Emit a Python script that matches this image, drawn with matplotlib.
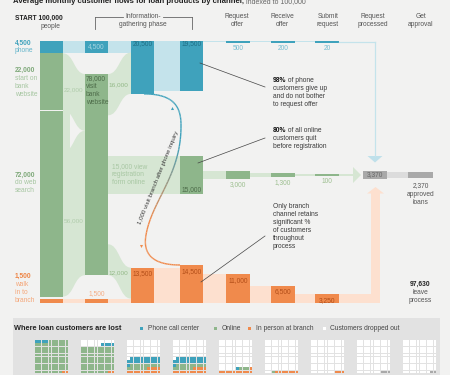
import matplotlib
matplotlib.use("Agg")
import matplotlib.pyplot as plt
import numpy as np
from matplotlib.patches import PathPatch, Polygon, Rectangle
from matplotlib.path import Path
from matplotlib.collections import LineCollection

# entry channels (per month, indexed to 100,000)
start_labels = ["phone", "start on\nbank\nwebsite", "do web\nsearch", "walk\nin to\nbranch"]
start_values = [4500, 22000, 72000, 1500]

# information-gathering phase
website_from_start = 22000
website_from_search = 56000
website_visits = 78000
web_to_phone = 16000
web_to_registration = 15000
web_to_branch = 12000
phone_to_branch = 1000
phone_flow = [4500, 20500, 19500]
branch_flow = [1500, 13500, 14500]

# loan process
stage_names = ["Request\noffer", "Receive\noffer", "Submit\nrequest", "Request\nprocessed", "Get\napproval"]
phone_stages = [500, 200, 20]
online_stages = [3000, 1300, 100]
branch_stages = [11000, 6500, 3250]
processed = 3370
approved = 2370
left_process = 97630

# waffles (cells out of 100)
waffle_phone = [4, 4, 20, 20, 1, 0, 0, 0, 0]
waffle_online = [94, 78, 15, 15, 3, 1, 0, 0, 0]
waffle_branch = [2, 2, 14, 14, 11, 7, 3, 0, 0]
waffle_done = [0, 0, 0, 0, 0, 0, 0, 3, 2]

TEAL, TEAL_L = "#3fa2bc", "#c4e3eb"
GREEN, GREEN_L = "#8eb68b", "#d6e6d3"
ORANGE, ORANGE_L = "#f08a4c", "#fde0cf"
GREY, GREY_L = "#a9a9a9", "#dcdcdc"
BG = "#f2f2f1"
TXT = "#3a3a3a"

S = 2.58 / 1000          # px per person
YT, YB, YC = 41, 302.5, 175
X1, X3, X5, X7 = 40, 85, 131, 180
BW = 23
XS = [226, 271, 315]
SW = 24
XM, XA = 363, 408


def bar(ax, x, top, h, color, w=BW):
    ax.bar(x, h, width=w, bottom=top, align="edge", color=color, lw=0)


def band(ax, x0, t0, b0, x1, t1, b1, color):
    """Bande courbe entre deux colonnes."""
    xm = (x0 + x1) / 2
    verts = [(x0, t0), (xm, t0), (xm, t1), (x1, t1),
             (x1, b1), (xm, b1), (xm, b0), (x0, b0), (x0, t0)]
    codes = [Path.MOVETO, Path.CURVE4, Path.CURVE4, Path.CURVE4,
             Path.LINETO, Path.CURVE4, Path.CURVE4, Path.CURVE4, Path.CLOSEPOLY]
    ax.add_patch(PathPatch(Path(verts, codes), fc=color, ec="none", lw=0))


def lines(ax, x, y, text, step=8, **kw):
    for i, s in enumerate(text.split("\n")):
        ax.text(x, y + i * step, s, va="center", **kw)


def rich(ax, x, y, parts, size=4.8):
    r = ax.figure.canvas.get_renderer()
    for part in parts:
        s, weight, color = part[:3]
        fs = part[3] if len(part) > 3 else size
        t = ax.text(x, y, s, fontsize=fs, fontweight=weight, color=color,
                    va="center", ha="left")
        bb = t.get_window_extent(renderer=r)
        x = ax.transData.inverted().transform((bb.x1, bb.y0))[0]


def bezier(p0, p1, p2, p3, n=40):
    t = np.linspace(0, 1, n)[:, None]
    return ((1 - t) ** 3 * p0 + 3 * (1 - t) ** 2 * t * p1
            + 3 * (1 - t) * t ** 2 * p2 + t ** 3 * p3)


def main():
    plt.rcParams["font.family"] = ["Liberation Sans", "DejaVu Sans"]
    plt.rcParams["font.size"] = 4.8
    fig = plt.figure(figsize=(4.5, 3.75), dpi=100)
    fig.patch.set_facecolor(BG)
    ax = fig.add_axes([0, 0, 1, 1])
    ax.set_xlim(0, 450)
    ax.set_ylim(375, 0)
    ax.axis("off")

    # titre (coupé en haut, comme l'original)
    rich(ax, 13, 1.5, [("Average monthly customer flows for loan products by channel,", "bold", "#222", 5.6),
                       (" indexed to 100,000", "normal", "#666", 5.0)])

    # en-têtes
    ax.text(15, 18, "START 100,000", fontweight="bold", color="#222", va="center")
    ax.text(50, 26, "people", color="#555", va="center", ha="center")
    lines(ax, 143, 17, "Information-\ngathering phase", ha="center", color="#555")
    for xs in ([95, 123], [163, 192]):
        ax.plot(xs, [17, 17], color="#666", lw=0.6)
    ax.plot([95, 95], [17, 29], color="#666", lw=0.6)
    ax.plot([192, 192], [17, 29], color="#666", lw=0.6)
    for xc, name in zip([237, 282, 328, 373, 421], stage_names):
        lines(ax, xc, 17, name, ha="center", color="#555")

    # colonne 1 : canaux d'entrée
    h = [v * S for v in start_values]
    y_phone = YT
    y_web = YT + h[0] + 0.7
    y_search = y_web + h[1] + 0.7
    y_branch = YB - h[3]
    bar(ax, X1, y_phone, h[0], TEAL)
    bar(ax, X1, y_web, h[1], GREEN)
    bar(ax, X1, y_search, h[2], GREEN)
    bar(ax, X1, y_branch, h[3], ORANGE)

    lab_y = [43, 70, 175, 276]
    num_cols = [TEAL, "#7fa97a", "#7fa97a", "#ee8444"]
    txt_cols = ["#62b4ca", "#a6c6a1", "#a6c6a1", "#f4a77a"]
    for y, v, lab, c1, c2 in zip(lab_y, start_values, start_labels, num_cols, txt_cols):
        ax.text(15, y, f"{v:,}", fontweight="bold", color=c1, va="center")
        lines(ax, 15, y + 8, lab, color=c2)

    # colonne 1 -> 3
    x0, x1 = X1 + BW, X3
    bar(ax, x0, YT, h[0], TEAL_L, w=x1 - x0)
    web_top = 74
    h22 = website_from_start * S
    h56 = website_from_search * S
    search_bot = y_search + h[2]
    band(ax, x0, y_web, y_web + h[1], x1, web_top, web_top + h22, GREEN_L)
    band(ax, x0, search_bot - h56, search_bot, x1, web_top + h22, web_top + h22 + h56, GREEN_L)
    ax.add_patch(Rectangle((x0, y_web + h[1]), 7, search_bot - h56 - y_web - h[1],
                           fc=GREEN_L, ec="none"))
    bar(ax, x0, y_branch, h[3], ORANGE_L, w=x1 - x0)
    ax.text(x0 + 0.5, 90, f"{website_from_start:,}", color="#b0ccab", va="center", fontsize=4.6)
    ax.text(x0 + 0.5, 221, f"{website_from_search:,}", color="#b0ccab", va="center", fontsize=4.6)

    # colonne 3
    hw = website_visits * S
    bar(ax, X3, YT, phone_flow[0] * S, TEAL)
    bar(ax, X3, web_top, hw, GREEN)
    bar(ax, X3, y_branch, branch_flow[0] * S, ORANGE)
    ax.text(X3 + BW / 2, 46.5, f"{phone_flow[0]:,}", color="#a5d5e2", ha="center", va="center")
    lines(ax, X3 + 1, 79, f"{website_visits:,}\nvisit\nbank\nwebsite", color="#4d6b49")
    ax.text(X3 + BW / 2, 294, f"{branch_flow[0]:,}", color="#f5ad84", ha="center", va="center")

    # colonne 3 -> 5
    x0, x1 = X3 + BW, X5
    bar(ax, x0, YT, phone_flow[0] * S, TEAL_L, w=x1 - x0)
    h16 = web_to_phone * S
    band(ax, x0, web_top, web_top + h16, x1, YT + phone_flow[0] * S,
         YT + phone_flow[1] * S, GREEN_L)
    h15 = web_to_registration * S
    bar(ax, x0, YC - h15 / 2, h15, GREEN_L, w=X7 - x0)
    h12 = web_to_branch * S
    web_bot = web_top + hw
    band(ax, x0, web_bot - h12, web_bot, x1, YB - branch_flow[1] * S,
         YB - branch_flow[0] * S, GREEN_L)
    bar(ax, x0, y_branch, branch_flow[0] * S, ORANGE_L, w=x1 - x0)
    ax.text(x0 + 0.5, 85, f"{web_to_phone:,}", color="#93b987", va="center", fontsize=4.6)
    ax.text(x0 + 0.5, 273, f"{web_to_branch:,}", color="#93b987", va="center", fontsize=4.6)
    lines(ax, x0 + 4, 167, f"{web_to_registration:,} view\nregistration\nform online",
          color="#a8c7a3")

    # colonne 5
    bar(ax, X5, YT, phone_flow[1] * S, TEAL)
    bar(ax, X5, YB - branch_flow[1] * S, branch_flow[1] * S, ORANGE)
    ax.text(X5 + BW / 2, 44, f"{phone_flow[1]:,}", color="#1f6e85", ha="center", va="center")
    ax.text(X5 + BW / 2, YB - branch_flow[1] * S + 6, f"{branch_flow[1]:,}",
            color="#b24d17", ha="center", va="center")

    # colonne 5 -> 7
    x0, x1 = X5 + BW, X7
    bar(ax, x0, YT, phone_flow[2] * S, TEAL_L, w=x1 - x0)
    bar(ax, x0, YB - branch_flow[1] * S, branch_flow[1] * S, ORANGE_L, w=x1 - x0)

    # colonne 7
    bar(ax, X7, YT, phone_flow[2] * S, TEAL)
    bar(ax, X7, YC - h15 / 2, h15, GREEN)
    bar(ax, X7, YB - branch_flow[2] * S, branch_flow[2] * S, ORANGE)
    ax.text(X7 + BW / 2, 44, f"{phone_flow[2]:,}", color="#1f6e85", ha="center", va="center")
    ax.text(X7 + BW / 2, 189.5, f"{web_to_registration:,}", color="#4d6b49",
            ha="center", va="center")
    ax.text(X7 + BW / 2, YB - branch_flow[2] * S + 6, f"{branch_flow[2]:,}",
            color="#b24d17", ha="center", va="center")

    # courbe téléphone -> agence
    pts = np.vstack([
        bezier(np.array([144, YT + phone_flow[1] * S]), np.array([172, 94]),
               np.array([181, 105]), np.array([181, 125])),
        bezier(np.array([181, 125]), np.array([181.5, 175]),
               np.array([152, 200]), np.array([146, 235])),
        bezier(np.array([146, 235]), np.array([143, 252]),
               np.array([150, 265]), np.array([X7, 265])),
    ])
    segs = np.stack([pts[:-1], pts[1:]], axis=1)
    frac = np.clip((segs[:, :, 1].mean(axis=1) - 145) / 75, 0, 1)[:, None]
    c_t = np.array(matplotlib.colors.to_rgb(TEAL))
    c_o = np.array(matplotlib.colors.to_rgb(ORANGE))
    ax.add_collection(LineCollection(segs, colors=(1 - frac) * c_t + frac * c_o, lw=1.0))
    ax.plot([172], [107.5], marker="^", ms=2.2, color=TEAL, mew=0)
    ax.plot([140.5], [246], marker="v", ms=2.2, color=ORANGE, mew=0)
    ax.text(158, 178, f"{phone_to_branch:,} visit branch after phone inquiry",
            rotation=68, ha="center", va="center", fontsize=4.4, color=TXT,
            rotation_mode="anchor")

    # étapes du processus de prêt
    prev = X7 + BW
    for x, v in zip(XS, phone_stages):
        bar(ax, prev, YT, max(v * S, 1.2), TEAL_L, w=x - prev)
        bar(ax, x, YT, max(v * S, 1.8), TEAL, w=SW)
        ax.text(x + SW / 2, 48, f"{v:,}", color="#74bcd0", ha="center", va="center")
        prev = x + SW
    ax.plot([prev, 375], [YT + 0.6, YT + 0.6], color=TEAL_L, lw=0.9)
    ax.plot([375, 375], [YT + 0.6, 156], color=TEAL_L, lw=0.9)
    ax.add_patch(Polygon([(367.5, 156), (382.5, 156), (375, 162.5)], fc="#bfe0ea", ec="none"))

    prev = X7 + BW
    for x, v in zip(XS, online_stages):
        hc = max(v * S, 1.2)
        bar(ax, prev, YC - hc / 2, hc, GREEN_L, w=x - prev)
        hb = max(v * S, 1.4)
        bar(ax, x, YC - hb / 2, hb, GREEN, w=SW)
        ax.text(x + SW / 2, YC + hb / 2 + 6, f"{v:,}", color="#9dbf90", ha="center", va="center")
        prev = x + SW
    bar(ax, prev, YC - 0.6, 1.2, GREEN_L, w=353 - prev)
    ax.add_patch(Polygon([(353, 167), (353, 183), (361, 175)], fc=GREEN_L, ec="none"))

    prev = X7 + BW
    for x, v in zip(XS, branch_stages):
        hb = v * S
        bar(ax, prev, YB - hb, hb, ORANGE_L, w=x - prev)
        bar(ax, x, YB - hb, hb, ORANGE, w=SW)
        ax.text(x + SW / 2, YB - hb + 6, f"{v:,}", color="#b24d17", ha="center", va="center")
        prev = x + SW
    hb = branch_stages[-1] * S
    bar(ax, prev, YB - hb, hb, ORANGE_L, w=375.5 + hb / 2 - prev)
    bar(ax, 375.5 - hb / 2, 193, YB - hb - 193, ORANGE_L, w=hb)
    ax.add_patch(Polygon([(367, 193.5), (384, 193.5), (375.5, 187)], fc=ORANGE_L, ec="none"))

    # traitement et approbation
    hp = processed * S
    ha_ = approved * S
    bar(ax, XM, YC - hp / 2, hp, GREY, w=24)
    bar(ax, XM + 24, YC - ha_ / 2, ha_, GREY_L, w=XA - XM - 24)
    bar(ax, XA, YC - ha_ / 2, ha_, GREY, w=25)
    ax.text(XM + 12, YC, f"{processed:,}", color="#666", ha="center", va="center")
    lines(ax, 420.5, 186, f"{approved:,}\napproved\nloans", ha="center", color="#555")
    ax.text(420.5, 284, f"{left_process:,}", fontweight="bold", color="#222",
            ha="center", va="center")
    lines(ax, 420.5, 292, "leave\nprocess", ha="center", color="#555")

    # annotations
    ax.plot([200, 265], [63, 87], color="#444", lw=0.5)
    rich(ax, 273, 81, [("98%", "bold", "#111"), (" of phone", "normal", TXT)])
    lines(ax, 273, 89, "customers give up\nand do not bother\nto request offer", color=TXT)
    ax.plot([198, 265], [163, 138], color="#444", lw=0.5)
    rich(ax, 273, 130, [("80%", "bold", "#111"), (" of all online", "normal", TXT)])
    lines(ax, 273, 138, "customers quit\nbefore registration", color=TXT)
    ax.plot([201, 265], [282, 236], color="#444", lw=0.5)
    lines(ax, 273, 207, "Only branch\nchannel retains\nsignificant %\nof customers\nthroughout\nprocess",
          color=TXT)

    # panneau du bas
    ax.add_patch(Rectangle((13, 318), 427, 60, fc="#e2e2e2", ec="none"))
    ax.text(14, 328, "Where loan customers are lost", fontweight="bold", color="#222",
            va="center", fontsize=5.3)
    for xs, col, lab in [(139.5, TEAL, "Phone call center"), (213.5, GREEN, "Online"),
                         (248, ORANGE, "In person at branch"), (322.5, "white", "Customers dropped out")]:
        ax.add_patch(Rectangle((xs, 326.5), 3.4, 3.4, fc=col, ec="none"))
        ax.text(xs + 8, 328.2, lab, color="#444", va="center")

    cell = 3.4
    for i in range(9):
        order = ([ORANGE] * waffle_branch[i] + [GREEN] * waffle_online[i]
                 + [TEAL] * waffle_phone[i] + [GREY] * waffle_done[i])
        order += ["white"] * (100 - len(order))
        xl = 35 + 46 * i
        xs_, ys_, cs_ = [], [], []
        for k, c in enumerate(order):
            row, col = divmod(k, 10)
            xs_.append(xl + (9 - col) * cell)
            ys_.append(340 + (9 - row) * cell)
            cs_.append(c)
        ax.bar(xs_, cell - 0.7, width=cell - 0.7, bottom=ys_, align="edge", color=cs_, lw=0)

    fig.savefig("out.png", dpi=100, facecolor=BG)


if __name__ == "__main__":
    main()
